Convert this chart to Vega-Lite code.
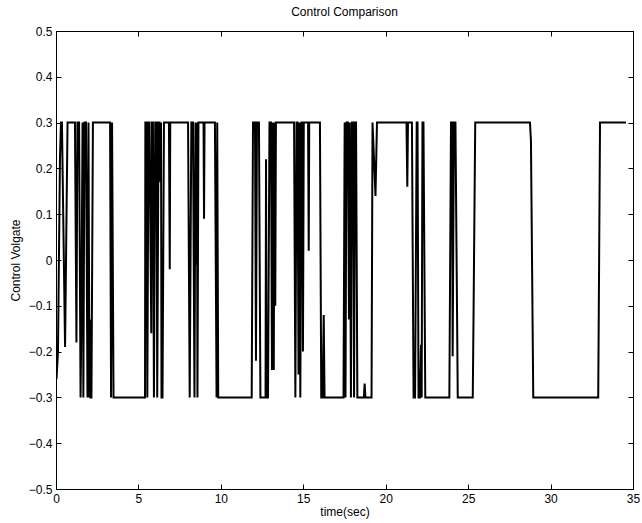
{
  "$schema": "https://vega.github.io/schema/vega-lite/v6.json",
  "width": 577,
  "height": 458,
  "autosize": {"type": "none"},
  "padding": {"left": 56, "top": 31, "right": 9, "bottom": 34},
  "background": "white",
  "title": {"text": "Control Comparison", "fontSize": 12, "font": "Liberation Sans", "fontWeight": "normal", "color": "black", "offset": 6},
  "config": {
    "view": {"stroke": "black", "strokeWidth": 1},
    "axis": {"font": "Liberation Sans", "labelFont": "Liberation Sans", "titleFont": "Liberation Sans", "labelFontSize": 12, "titleFontSize": 12, "titleFontWeight": "normal", "labelColor": "black", "titleColor": "black", "domainColor": "black", "tickColor": "black", "grid": false, "tickSize": -5}
  },
  "data": {"values": [
    {"t":0.03,"v":-0.26},{"t":0.12,"v":-0.2},{"t":0.24,"v":0.22},{"t":0.30,"v":0.3},{"t":0.36,"v":0.3},{"t":0.55,"v":-0.19},{"t":0.70,"v":0.3},{"t":1.15,"v":0.3},{"t":1.24,"v":-0.18},{"t":1.30,"v":0.3},{"t":1.40,"v":0.3},{"t":1.49,"v":-0.3},{"t":1.52,"v":-0.2},{"t":1.56,"v":-0.01},{"t":1.61,"v":0.3},{"t":1.66,"v":-0.3},{"t":1.73,"v":0.3},{"t":1.82,"v":0.3},{"t":1.91,"v":-0.3},{"t":1.97,"v":0.3},{"t":2.03,"v":-0.3},{"t":2.06,"v":-0.13},{"t":2.09,"v":-0.3},{"t":2.15,"v":-0.3},{"t":2.24,"v":0.3},
    {"t":3.28,"v":0.3},{"t":3.34,"v":-0.3},{"t":3.40,"v":0.3},{"t":3.49,"v":-0.3},{"t":5.40,"v":-0.3},{"t":5.42,"v":0.3},{"t":5.49,"v":0.3},{"t":5.54,"v":-0.3},{"t":5.61,"v":0.3},{"t":5.67,"v":0.3},{"t":5.78,"v":-0.16},{"t":5.82,"v":0.3},{"t":5.88,"v":0.3},{"t":5.94,"v":-0.3},{"t":6.02,"v":0.3},{"t":6.10,"v":0.3},{"t":6.14,"v":-0.3},{"t":6.22,"v":0.3},{"t":6.28,"v":0.3},{"t":6.33,"v":0.17},{"t":6.37,"v":0.3},{"t":6.40,"v":-0.3},{"t":6.46,"v":-0.3},{"t":6.55,"v":0.3},{"t":6.85,"v":0.3},{"t":6.90,"v":-0.02},{"t":6.93,"v":0.3},
    {"t":8.01,"v":0.3},{"t":8.11,"v":-0.3},{"t":8.21,"v":0.3},{"t":8.31,"v":0.3},{"t":8.40,"v":-0.3},{"t":8.46,"v":0.3},{"t":8.51,"v":-0.01},{"t":8.55,"v":0.3},{"t":8.58,"v":-0.3},{"t":8.64,"v":0.3},{"t":8.95,"v":0.3},{"t":8.98,"v":0.09},{"t":9.01,"v":0.3},{"t":9.64,"v":0.3},{"t":9.74,"v":-0.3},{"t":9.78,"v":0.3},{"t":9.84,"v":-0.3},
    {"t":11.87,"v":-0.3},{"t":11.95,"v":0.3},{"t":12.07,"v":0.3},{"t":12.13,"v":-0.22},{"t":12.19,"v":0.3},{"t":12.31,"v":0.3},{"t":12.40,"v":-0.3},{"t":12.71,"v":-0.3},{"t":12.74,"v":0.22},{"t":12.77,"v":-0.3},{"t":12.86,"v":-0.3},{"t":12.95,"v":0.3},{"t":13.04,"v":0.3},{"t":13.10,"v":-0.24},{"t":13.16,"v":0.3},{"t":13.21,"v":-0.24},{"t":13.25,"v":0.3},{"t":13.30,"v":-0.1},{"t":13.34,"v":0.3},
    {"t":14.44,"v":0.3},{"t":14.52,"v":-0.3},{"t":14.59,"v":0.3},{"t":14.65,"v":0.3},{"t":14.71,"v":-0.25},{"t":14.77,"v":0.3},{"t":14.82,"v":-0.3},{"t":14.89,"v":0.3},{"t":14.95,"v":0.3},{"t":14.98,"v":-0.2},{"t":15.03,"v":0.3},{"t":15.29,"v":0.3},{"t":15.33,"v":0.02},{"t":15.36,"v":0.3},{"t":16.01,"v":0.3},{"t":16.09,"v":-0.3},{"t":16.17,"v":-0.3},{"t":16.24,"v":-0.12},{"t":16.29,"v":-0.3},
    {"t":17.44,"v":-0.3},{"t":17.51,"v":0.3},{"t":17.56,"v":-0.3},{"t":17.62,"v":0.3},{"t":17.71,"v":0.3},{"t":17.77,"v":-0.13},{"t":17.82,"v":0.3},{"t":17.89,"v":-0.3},{"t":17.95,"v":0.3},{"t":18.02,"v":0.3},{"t":18.08,"v":-0.3},{"t":18.14,"v":0.3},{"t":18.20,"v":0.3},{"t":18.28,"v":-0.3},{"t":18.68,"v":-0.3},{"t":18.72,"v":-0.27},{"t":18.77,"v":-0.3},{"t":19.14,"v":-0.3},{"t":19.20,"v":0.3},{"t":19.38,"v":0.14},{"t":19.47,"v":0.3},
    {"t":21.26,"v":0.3},{"t":21.31,"v":0.16},{"t":21.35,"v":0.3},{"t":21.59,"v":0.3},{"t":21.69,"v":-0.3},{"t":21.78,"v":-0.3},{"t":21.88,"v":0.3},{"t":21.93,"v":0.3},{"t":21.99,"v":-0.3},{"t":22.08,"v":-0.3},{"t":22.14,"v":-0.185},{"t":22.18,"v":-0.3},{"t":22.23,"v":0.3},{"t":22.29,"v":0.3},{"t":22.40,"v":-0.3},
    {"t":23.86,"v":-0.3},{"t":23.96,"v":0.3},{"t":24.02,"v":0.3},{"t":24.06,"v":-0.21},{"t":24.14,"v":0.3},{"t":24.23,"v":0.3},{"t":24.37,"v":-0.3},{"t":25.28,"v":-0.3},{"t":25.33,"v":-0.11},{"t":25.43,"v":0.3},
    {"t":28.75,"v":0.3},{"t":28.81,"v":0.26},{"t":28.95,"v":-0.3},{"t":32.89,"v":-0.3},{"t":33.00,"v":0.3},{"t":34.57,"v":0.3}
  ]},
  "layer": [
    {
      "mark": {"type": "line", "color": "black", "strokeWidth": 2, "clip": true},
      "encoding": {
        "x": {"field": "t", "type": "quantitative", "scale": {"domain": [0, 35], "nice": false, "zero": false},
              "axis": {"title": "time(sec)", "values": [0,5,10,15,20,25,30,35], "labelPadding": 9, "titlePadding": 2, "labelFlush": false}},
        "y": {"field": "v", "type": "quantitative", "scale": {"domain": [-0.5, 0.5], "nice": false, "zero": false},
              "axis": {"title": "Control Volgate", "values": [-0.5,-0.4,-0.3,-0.2,-0.1,0,0.1,0.2,0.3,0.4,0.5], "labelExpr": "datum.value == 0 ? '0' : format(datum.value, '.1f')", "labelPadding": 9, "titlePadding": 6, "labelFlush": false}}
      }
    },
    {
      "mark": {"type": "line", "opacity": 0},
      "encoding": {
        "x": {"field": "t", "type": "quantitative", "scale": {"domain": [0, 35], "nice": false, "zero": false},
              "axis": {"orient": "top", "title": null, "labels": false, "values": [0,5,10,15,20,25,30,35]}},
        "y": {"field": "v", "type": "quantitative", "scale": {"domain": [-0.5, 0.5], "nice": false, "zero": false},
              "axis": {"orient": "right", "title": null, "labels": false, "values": [-0.5,-0.4,-0.3,-0.2,-0.1,0,0.1,0.2,0.3,0.4,0.5]}}
      }
    }
  ],
  "resolve": {"axis": {"x": "independent", "y": "independent"}}
}
